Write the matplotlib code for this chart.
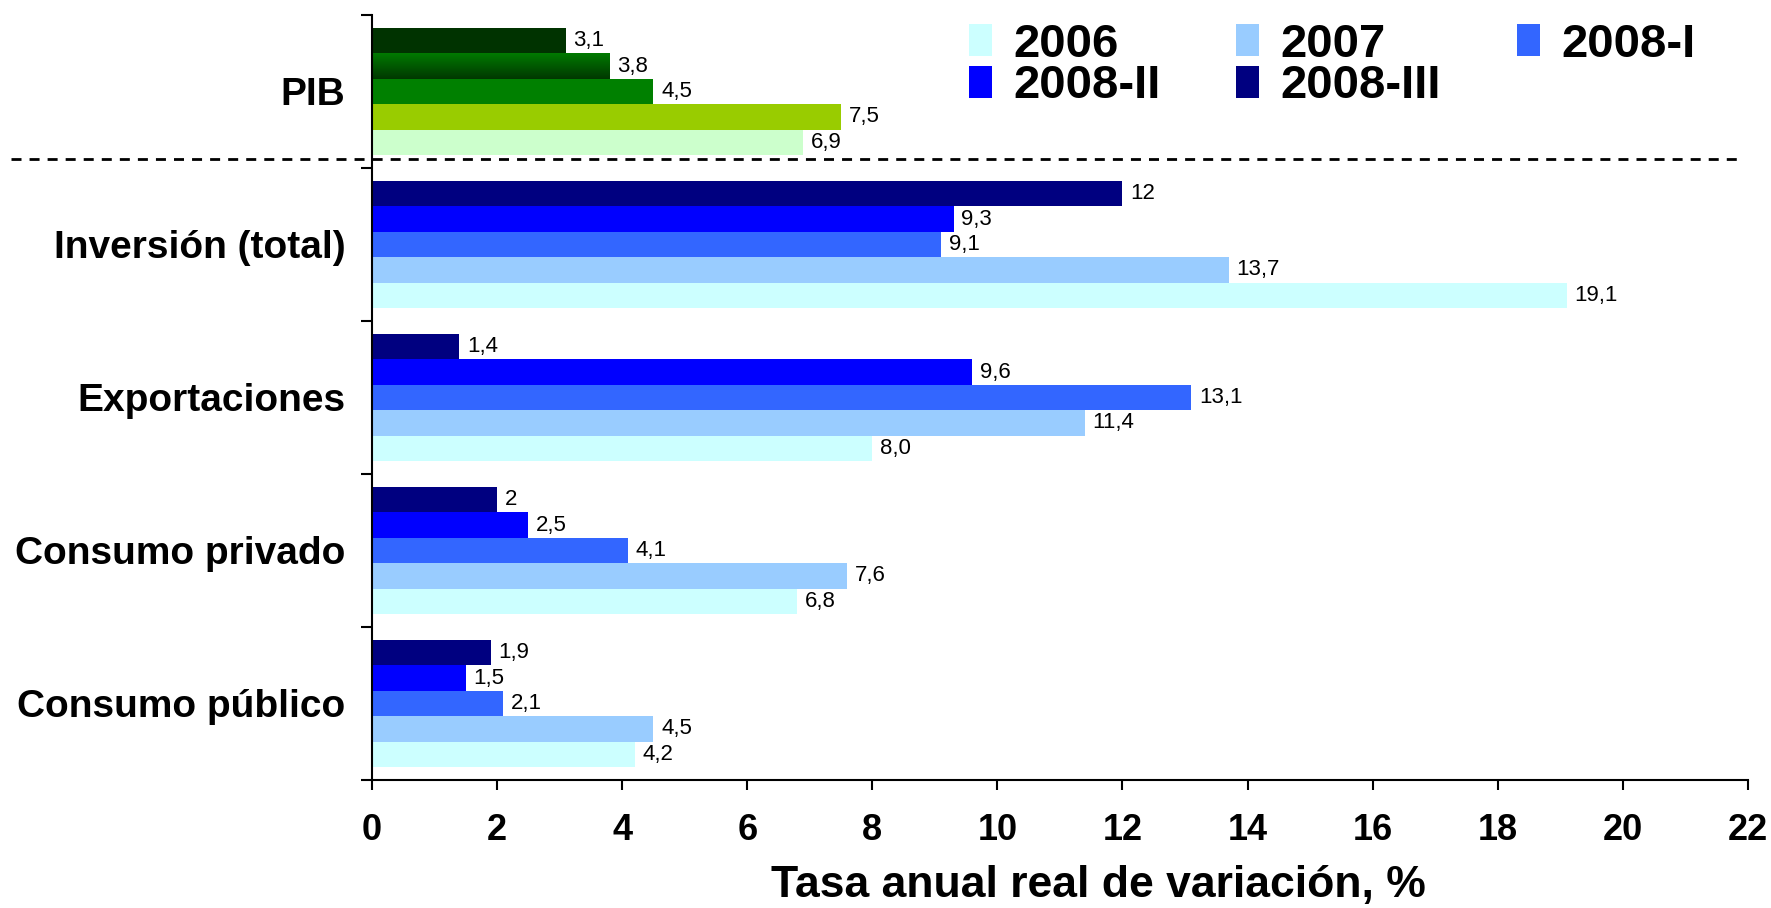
import matplotlib
matplotlib.use("Agg")
import matplotlib.pyplot as plt
import numpy as np
from matplotlib.lines import Line2D

categorias = ["Consumo público", "Consumo privado", "Exportaciones", "Inversión (total)", "PIB"]
series = ["2006", "2007", "2008-I", "2008-II", "2008-III"]

# valores por serie, en el orden de categorias
v2006 = [4.2, 6.8, 8.0, 19.1, 6.9]
v2007 = [4.5, 7.6, 11.4, 13.7, 7.5]
v2008_1 = [2.1, 4.1, 13.1, 9.1, 4.5]
v2008_2 = [1.5, 2.5, 9.6, 9.3, 3.8]
v2008_3 = [1.9, 2.0, 1.4, 12.0, 3.1]

# etiquetas tal como aparecen en el grafico
e2006 = ["4,2", "6,8", "8,0", "19,1", "6,9"]
e2007 = ["4,5", "7,6", "11,4", "13,7", "7,5"]
e2008_1 = ["2,1", "4,1", "13,1", "9,1", "4,5"]
e2008_2 = ["1,5", "2,5", "9,6", "9,3", "3,8"]
e2008_3 = ["1,9", "2", "1,4", "12", "3,1"]

valores = [v2006, v2007, v2008_1, v2008_2, v2008_3]
etiquetas = [e2006, e2007, e2008_1, e2008_2, e2008_3]

colores = ["#CCFFFF", "#99CCFF", "#3366FF", "#0000FF", "#000080"]
colores_pib = ["#CCFFCC", "#99CC00", "#008000", "#006000", "#003300"]

plt.rcParams['font.family'] = ['Liberation Sans', 'DejaVu Sans']

fig = plt.figure(figsize=(17.71, 9.08), dpi=100)
ax = fig.add_axes([0.210, 0.141, 0.777, 0.8425])

y = np.arange(len(categorias))
h = 0.166
ipib = categorias.index("PIB")

handles = []
for k, (vals, labs) in enumerate(zip(valores, etiquetas)):
    cols = [colores_pib[k] if i == ipib else colores[k] for i in range(len(categorias))]
    pos = y + (k - 2) * h
    bars = ax.barh(pos, vals, height=h, color=cols, edgecolor='none')
    handles.append(plt.Rectangle((0, 0), 1, 1, facecolor=colores[k], edgecolor='none'))
    for b, lab in zip(bars, labs):
        ax.annotate(lab, xy=(b.get_width(), b.get_y() + h / 2), xytext=(5.5, 0),
                    textcoords='offset points', va='center', ha='left', fontsize=16)
    # degradado en la barra PIB 2008-II
    if series[k] == "2008-II":
        b = bars[ipib]
        grad = np.linspace(0, 1, 100).reshape(-1, 1)
        cmap = matplotlib.colors.LinearSegmentedColormap.from_list("g", ["#003800", "#007A00"])
        im = ax.imshow(grad, cmap=cmap, aspect='auto', origin='lower',
                       extent=[0, b.get_width(), b.get_y(), b.get_y() + h], zorder=2)
        im.set_clip_path(b)

ax.set_xlim(0, 22)
ax.set_ylim(-0.5, len(categorias) - 0.5)
ax.set_xticks(np.arange(0, 23, 2))
ax.set_yticks(y)
ax.set_yticklabels(categorias, fontsize=28, fontweight='bold')
ax.set_yticks(np.arange(-0.5, len(categorias), 1), minor=True)
ax.tick_params(axis='y', which='major', length=0, pad=19)
ax.tick_params(axis='y', which='minor', length=8, width=1.5, direction='out')
ax.tick_params(axis='x', length=7, width=1.5, direction='out', pad=17, labelsize=26)
for t in ax.get_xticklabels():
    t.set_fontweight('bold')

for s in ['top', 'right']:
    ax.spines[s].set_visible(False)
for s in ['left', 'bottom']:
    ax.spines[s].set_linewidth(1.5)

fig.text(0.62, 0.012, "Tasa anual real de variación, %", ha='center', va='baseline',
         fontsize=32, fontweight='bold')

# linea punteada que separa el PIB
fig.add_artist(Line2D([0.0064, 0.985], [0.8249, 0.8249], transform=fig.transFigure,
                      color='black', lw=2, linestyle=(0, (3.6, 2.9))))

# orden para que la leyenda se lea por filas
orden = [0, 3, 1, 4, 2]
ax.legend([handles[i] for i in orden], [series[i] for i in orden], ncol=3,
          loc='upper left', bbox_to_anchor=(0.547, 0.975),
          bbox_transform=fig.transFigure, frameon=False, borderpad=0, borderaxespad=0,
          handlelength=0.49, handleheight=0.66, handletextpad=0.45, columnspacing=1.6,
          labelspacing=-0.05, prop={'size': 34, 'weight': 'bold'})

fig.savefig("out.png", dpi=100)
